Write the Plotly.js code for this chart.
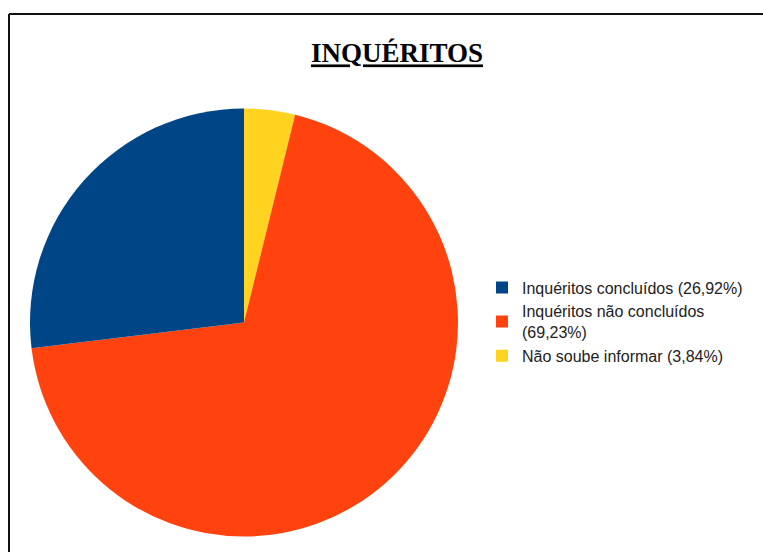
<!DOCTYPE html>
<html>
<head>
<meta charset="utf-8">
<script src="https://cdn.plot.ly/plotly-3.0.1.min.js"></script>
<style>html,body{margin:0;padding:0;background:#fff;}#chart{width:763px;height:552px;}</style>
</head>
<body>
<div id="chart"></div>
<script>
// Slice order as drawn clockwise from 12 o'clock; legend shows them reversed.
var categories = ["Não soube informar (3,84%)", "Inquéritos não concluídos<br>(69,23%)", "Inquéritos concluídos (26,92%)"];
var values = [3.84, 69.23, 26.92];
var colors = ["#ffd320", "#ff420e", "#004586"];
var titleText = "<b><u>INQUÉRITOS</u></b>";

var W = 763, H = 552;
var trace = {
  type: "pie",
  labels: categories,
  values: values,
  marker: {colors: colors, line: {width: 0}},
  sort: false,
  direction: "clockwise",
  rotation: 0,
  textinfo: "none",
  hoverinfo: "label",
  domain: {x: [30/W, 458/W], y: [(H-537)/H, (H-108)/H]}
};
var layout = {
  width: W, height: H,
  margin: {l: 0, r: 0, t: 0, b: 0},
  paper_bgcolor: "#ffffff",
  plot_bgcolor: "#ffffff",
  title: {
    text: titleText,
    font: {family: "Liberation Serif, Times New Roman, serif", size: 27, color: "#000"},
    x: 397/W, xanchor: "center",
    y: 1 - 53/H, yanchor: "middle"
  },
  showlegend: true,
  legend: {
    x: 482/W, xanchor: "left",
    y: 1 - 322/H, yanchor: "middle",
    traceorder: "reversed",
    font: {family: "Liberation Sans, Arial, sans-serif", size: 16, color: "#222"},
    bgcolor: "rgba(0,0,0,0)"
  },
  shapes: [
    {type: "line", xref: "paper", yref: "paper", x0: 9/W, x1: 1.01, y0: 1 - 14/H, y1: 1 - 14/H, line: {color: "#111", width: 2}},
    {type: "line", xref: "paper", yref: "paper", x0: 9/W, x1: 9/W, y0: 1 - 14/H, y1: -0.01, line: {color: "#111", width: 2}}
  ]
};
Plotly.newPlot("chart", [trace], layout, {displayModeBar: false, staticPlot: true});
</script>
</body>
</html>
